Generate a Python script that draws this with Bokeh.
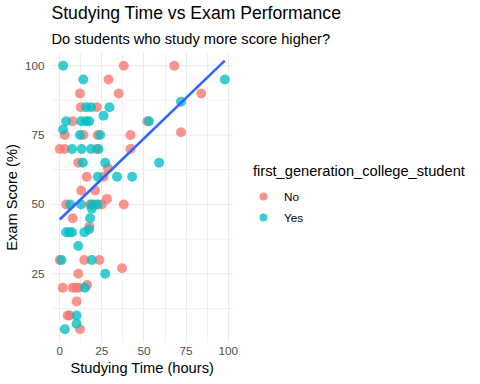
import numpy as np
from bokeh.plotting import figure
from bokeh.models import (ColumnDataSource, Range1d, FixedTicker, Legend, LegendItem, Title)
from bokeh.embed import file_html
from bokeh.resources import INLINE

# ---- data ----
no_hours = [0, 3, 22, 42, 3, 14, 22.5, 42, 72, 7.7, 52, 12.5, 22, 12, 35, 84, 29, 38, 68,
            11, 28.6, 16, 26, 12.7, 21, 28, 3.8, 18, 21, 25, 38, 7.7, 17.6, 0, 14.6, 23.5,
            37, 11, 16.2, 1.8, 7.7, 9.7, 11.3, 10, 4.7, 6, 12]
no_score = [70, 70, 70, 70, 75, 75, 75, 75, 76, 80, 80, 85, 85, 90, 90, 90, 95, 100, 100,
            65, 63, 60, 60, 55, 55, 52, 50, 50, 50, 50, 50, 45, 42, 30, 30, 30,
            27, 25, 21, 20, 20, 20, 20, 15, 10, 10, 5]

yes_hours = [2, 14, 98, 72, 15.7, 18.6, 29.5, 26, 3.8, 12.7, 15.6, 17.5, 53, 2, 12, 24,
             7.3, 13, 18.6, 23, 13.7, 27, 59, 22.6, 34, 43, 6.2, 12.7, 19, 22.6, 19,
             18, 17.3, 3.8, 5.7, 7.3, 14.6, 11, 1, 19, 27, 15, 10, 10, 3]
yes_score = [100, 95, 95, 87, 85, 85, 85, 82, 80, 80, 80, 80, 80, 77, 75, 75,
             70, 70, 70, 70, 65, 65, 65, 60, 60, 60, 50, 50, 50, 50, 48.5,
             45, 41, 40, 40, 40, 40, 35, 30, 30, 25, 20, 10, 7, 5]

groups = ["No", "Yes"]
group_colors = ["#F8766D", "#00BFC4"]
x_ticks = [0, 25, 50, 75, 100]
y_ticks = [25, 50, 75, 100]
minor_ticks = [12.5, 37.5, 62.5, 87.5]

FONT = "Liberation Sans"

all_x = np.array(no_hours + yes_hours, dtype=float)
all_y = np.array(no_score + yes_score, dtype=float)
xpad = 0.05 * (all_x.max() - all_x.min())
ypad = 0.05 * (all_y.max() - all_y.min())
x_lo, x_hi = all_x.min() - xpad, all_x.max() + xpad      # panel limits
y_lo, y_hi = all_y.min() - ypad, all_y.max() + ypad

W, H = 480, 384
LEFT, TOP, BOTTOM = 50, 52, 42
PANEL_W = 182
FRAME_W = W - LEFT
x_end = x_lo + (x_hi - x_lo) * FRAME_W / PANEL_W           # frame extends under the legend

p = figure(width=W, height=H, output_backend="svg", toolbar_location=None,
           x_range=Range1d(x_lo, x_end), y_range=Range1d(y_lo, y_hi),
           min_border_left=LEFT, min_border_right=0, min_border_top=TOP,
           min_border_bottom=BOTTOM)
p.outline_line_color = None
p.background_fill_color = "white"
p.border_fill_color = "white"

# titles
sub = Title(text="Do students who study more score higher?", text_font=FONT,
            text_font_size="14.67px", text_font_style="normal", text_color="black",
            offset=0, standoff=12)
main = Title(text="Studying Time vs Exam Performance", text_font=FONT,
             text_font_size="17.6px", text_font_style="normal", text_color="black",
             offset=0, standoff=0)
p.add_layout(sub, "above")
p.add_layout(main, "above")

# grid: vertical lines from the built-in grid, horizontal ones limited to the panel
p.xaxis.ticker = FixedTicker(ticks=x_ticks, minor_ticks=minor_ticks)
p.yaxis.ticker = FixedTicker(ticks=y_ticks, minor_ticks=minor_ticks)
p.xgrid.grid_line_color = "#EBEBEB"
p.xgrid.grid_line_width = 1
p.xgrid.minor_grid_line_color = "#F1F1F1"
p.xgrid.minor_grid_line_width = 1
p.ygrid.grid_line_color = None
p.segment(x0=x_lo, x1=x_hi, y0=y_ticks, y1=y_ticks, line_color="#EBEBEB", line_width=1)
p.segment(x0=x_lo, x1=x_hi, y0=minor_ticks, y1=minor_ticks, line_color="#F1F1F1", line_width=1)

for ax in (p.xaxis, p.yaxis):
    ax.axis_line_color = None
    ax.major_tick_line_color = None
    ax.minor_tick_line_color = None
    ax.major_tick_out = 0
    ax.major_tick_in = 0
    ax.minor_tick_out = 0
    ax.minor_tick_in = 0
    ax.major_label_text_font = FONT
    ax.major_label_text_font_size = "11.7px"
    ax.major_label_text_color = "#4D4D4D"
    ax.axis_label_text_font = FONT
    ax.axis_label_text_font_size = "14.67px"
    ax.axis_label_text_font_style = "normal"
    ax.axis_label_text_color = "black"
p.xaxis.bounds = (x_lo, x_hi)
p.yaxis.axis_label = "Exam Score (%)"
p.xaxis.major_label_standoff = 4
p.yaxis.major_label_standoff = 7
p.yaxis.axis_label_standoff = 2

# x-axis title, centred under the panel (not under the wider frame)
xtitle = Title(text="Studying Time (hours)", text_font=FONT, text_font_size="14.67px",
               text_font_style="normal", text_color="black", align="left",
               offset=19, standoff=1)
p.add_layout(xtitle, "below")

# points
renderers = []
for name, col, xs, ys in zip(groups, group_colors, [no_hours, yes_hours], [no_score, yes_score]):
    src = ColumnDataSource(dict(x=xs, y=ys))
    r = p.scatter("x", "y", source=src, size=10, fill_color=col, line_color=None, fill_alpha=0.78)
    renderers.append(r)

# linear fit (geom_smooth method = "lm")
slope, intercept = np.polyfit(all_x, all_y, 1)
lx = np.array([all_x.min(), all_x.max()])
p.line(lx, intercept + slope * lx, line_color="#3366FF", line_width=2.6)

legend = Legend(items=[LegendItem(label=g, renderers=[r]) for g, r in zip(groups, renderers)],
                location=(202, 115), title="first_generation_college_student",
                title_text_font=FONT, title_text_font_size="14.67px", title_text_color="black",
                title_text_font_style="normal", title_standoff=7,
                label_text_font=FONT, label_text_font_size="11.7px", label_text_color="black",
                label_standoff=11, glyph_width=20, glyph_height=20, spacing=1,
                padding=5, margin=0, border_line_color=None, background_fill_alpha=0)
p.add_layout(legend, "center")

open("out.html", "w").write(file_html(p, INLINE))
